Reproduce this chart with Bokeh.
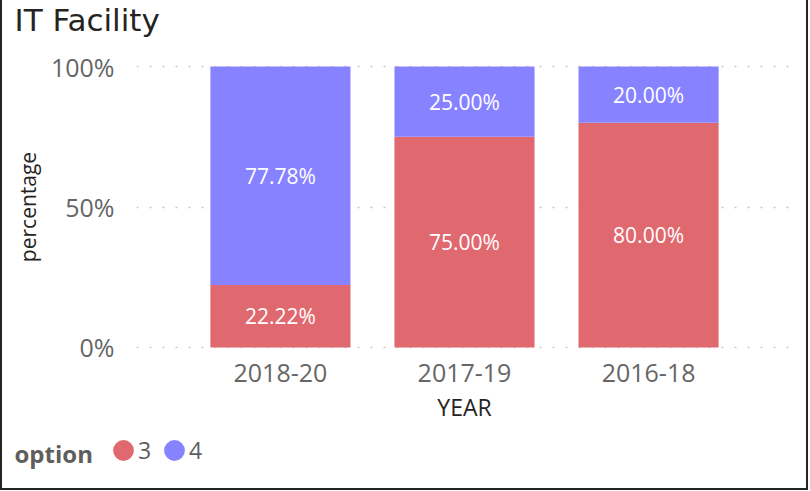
from bokeh.plotting import figure
from bokeh.layouts import column
from bokeh.models import (ColumnDataSource, FactorRange, Range1d, FixedTicker,
                          Legend, LegendItem, Label)
from bokeh.embed import file_html
from bokeh.resources import INLINE
from bokeh.core.properties import value

# ---- data ----
years = ["2018-20", "2017-19", "2016-18"]
option_3 = [22.22, 75.00, 80.00]
option_4 = [77.78, 25.00, 20.00]
series = ["3", "4"]
y_ticks = [0, 50, 100]
y_tick_labels = ["0%", "50%", "100%"]
title_text = "IT Facility"
legend_title = "option"

colors = ["#E0686F", "#8782FF"]
FONT = "Open Sans"
W = 804

source = ColumnDataSource(dict(year=years, s3=option_3, s4=option_4))

# ---- title strip ----
tt = figure(width=W, height=42, output_backend="svg", toolbar_location=None,
            x_axis_type=None, y_axis_type=None, min_border=0,
            x_range=Range1d(0, 1), y_range=Range1d(0, 1))
tt.frame_align = False
tt.grid.visible = False
tt.outline_line_color = None
tt.add_layout(Label(x=12, y=23, x_units="screen", y_units="screen",
                    text=title_text, text_font="DejaVu Sans", text_font_size="31px",
                    text_color="#252423", text_baseline="middle"))

# ---- main chart ----
p = figure(x_range=FactorRange(factors=years, range_padding=0.188),
           y_range=Range1d(-0.4, 100.4),
           width=W, height=386, output_backend="svg", toolbar_location=None,
           min_border_left=134, min_border_right=14, min_border_top=23,
           min_border_bottom=80)
p.frame_align = False

bars = p.vbar_stack(["s3", "s4"], x="year", width=0.761, color=colors,
                    line_color=None, source=source)

# data labels centred in each segment
lab_x = years + years
lab_y = [a / 2 for a in option_3] + [a + b / 2 for a, b in zip(option_3, option_4)]
lab_t = [f"{v:.2f}%" for v in option_3 + option_4]
p.text(x=lab_x, y=lab_y, text=lab_t, text_color="white",
       text_font=value(FONT), text_font_size="21px",
       text_align="center", text_baseline="middle")

# grid
p.xgrid.visible = False
p.ygrid.ticker = FixedTicker(ticks=y_ticks)
p.ygrid.grid_line_color = "#C8C8C8"
p.ygrid.grid_line_dash = "2 11"
p.ygrid.grid_line_width = 1.5

# axes
for ax in (p.xaxis[0], p.yaxis[0]):
    ax.axis_line_color = None
    ax.major_tick_line_color = None
    ax.minor_tick_line_color = None
    ax.major_label_text_font = FONT
    ax.major_label_text_font_size = "25px"
    ax.major_label_text_color = "#666666"
    ax.axis_label_text_font = FONT
    ax.axis_label_text_font_style = "normal"
    ax.axis_label_text_color = "#252423"

p.yaxis.ticker = FixedTicker(ticks=y_ticks)
p.yaxis.major_label_overrides = dict(zip(y_ticks, y_tick_labels))
p.yaxis.major_label_standoff = 16
p.yaxis.axis_label = "percentage"
p.yaxis.axis_label_text_font_size = "21px"
p.yaxis.axis_label_standoff = 6

p.xaxis.major_label_standoff = 9
p.xaxis.axis_label = "YEAR"
p.xaxis.axis_label_text_font_size = "23px"
p.xaxis.axis_label_standoff = 6

p.outline_line_color = None

# ---- legend strip ----
lg = figure(x_range=p.x_range, y_range=p.y_range,
            width=W, height=60, output_backend="svg", toolbar_location=None,
            x_axis_type=None, y_axis_type=None, min_border=0)
lg.frame_align = False
lg.grid.visible = False
lg.outline_line_color = None
# practically invisible ellipses: only their (scaled) legend glyphs show
leg_r = [lg.ellipse(x="year", y=col, source=source, width=0.001, height=0.001,
                    width_units="screen", height_units="screen",
                    fill_color=c, line_color=None)
         for col, c in zip(["s3", "s4"], colors)]
for i, (s, r) in enumerate(zip(series, leg_r)):
    lg.add_layout(Legend(items=[LegendItem(label=s, renderers=[r])],
                         location=(108 + 51 * i, 22),
                         glyph_width=26, glyph_height=26, label_standoff=2,
                         spacing=0, padding=0, margin=0, border_line_color=None,
                         background_fill_alpha=0,
                         label_text_font=FONT, label_text_font_size="23px",
                         label_text_color="#605E5C",
                         label_text_baseline="middle"))
lg.add_layout(Label(x=12, y=35, x_units="screen", y_units="screen",
                    text=legend_title, text_font=FONT, text_font_size="24px",
                    text_font_style="bold", text_color="#605E5C",
                    text_baseline="middle"))

layout = column(tt, p, lg, spacing=0,
                styles={"border-left": "2px solid #252423",
                        "border-right": "2px solid #252423",
                        "border-bottom": "2px solid #252423"})

open("out.html", "w").write(file_html(layout, INLINE))
